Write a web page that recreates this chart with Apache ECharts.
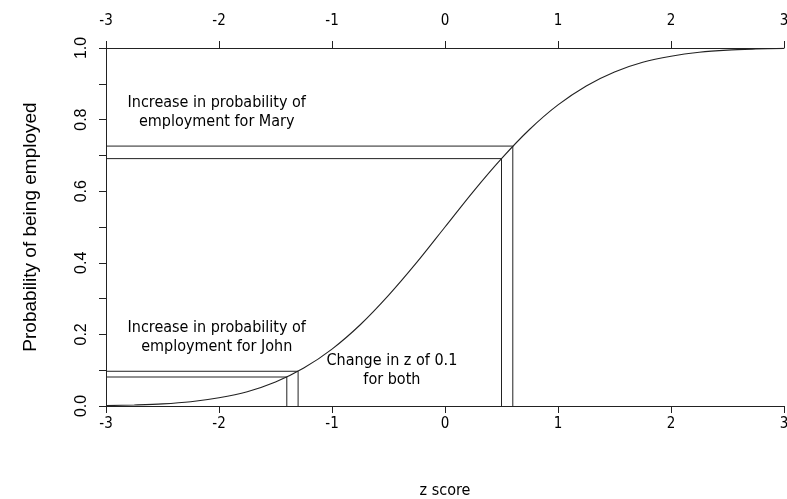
<!DOCTYPE html>
<html>
<head>
<meta charset="utf-8">
<script src="https://cdn.jsdelivr.net/npm/echarts@6/dist/echarts.min.js"></script>
<style>html,body{margin:0;padding:0;background:#fff}#c{width:787px;height:499px}</style>
</head>
<body>
<div id="c"></div>
<script>
// Curve values
var zValues = [-3, -2.75, -2.5, -2.25, -2, -1.75, -1.5, -1.25, -1, -0.75, -0.5, -0.25, 0, 0.25, 0.5, 0.75, 1, 1.25, 1.5, 1.75, 2, 2.25, 2.5, 2.75, 3];
var probValues = [0.001, 0.003, 0.006, 0.012, 0.023, 0.040, 0.067, 0.106, 0.159, 0.227, 0.309, 0.401, 0.5, 0.599, 0.691, 0.773, 0.841, 0.894, 0.933, 0.960, 0.977, 0.988, 0.994, 0.997, 0.999];
// Reference lines
var johnZ = [-1.4, -1.3];
var johnP = [0.081, 0.097];
var maryZ = [0.5, 0.6];
var maryP = [0.691, 0.726];
// Axis ticks
var xTicks = [-3, -2, -1, 0, 1, 2, 3];
var yMin = 0, yMax = 1, yStep = 0.1;
// Annotations
var noteTexts = ['Increase in probability of\nemployment for Mary', 'Increase in probability of\nemployment for John', 'Change in z of 0.1\nfor both'];
var noteZ = [-2.02, -2.02, -0.47];
var noteP = [0.82, 0.193, 0.10];

var narrow = '"DejaVu Sans Condensed", "Liberation Sans", sans-serif';
var regular = '"Liberation Sans", Arial, sans-serif';
var lineColor = '#222';

var curve = zValues.map(function (z, i) { return [z, probValues[i]]; });
var series = [{
  type: 'line', data: curve, smooth: 0.3, symbol: 'none',
  lineStyle: { color: lineColor, width: 1.1 }, silent: true
}];
function addSegments(zs, ps) {
  zs.forEach(function (z, i) {
    series.push({ type: 'line', symbol: 'none', silent: true, data: [[xTicks[0], ps[i]], [z, ps[i]]], lineStyle: { color: lineColor, width: 1 } });
    series.push({ type: 'line', symbol: 'none', silent: true, data: [[z, yMin], [z, ps[i]]], lineStyle: { color: lineColor, width: 1 } });
  });
}
addSegments(johnZ, johnP);
addSegments(maryZ, maryP);
series.push({
  type: 'scatter', symbolSize: 0, silent: true,
  itemStyle: { opacity: 1 },
  data: noteTexts.map(function (t, i) { return { value: [noteZ[i], noteP[i]], name: t }; }),
  label: { show: true, position: 'inside', formatter: function (p) { return p.name; },
    fontFamily: narrow, fontSize: 16, color: '#000', lineHeight: 19, align: 'center' }
});

var xAxisBase = {
  type: 'value', min: xTicks[0], max: xTicks[xTicks.length - 1], interval: 1,
  splitLine: { show: false },
  axisLine: { show: true, onZero: false, lineStyle: { color: lineColor, width: 1 } },
  axisTick: { show: true, length: 7, lineStyle: { color: lineColor } },
  axisLabel: { fontFamily: narrow, fontSize: 15, color: '#000' }
};
var chart = echarts.init(document.getElementById('c'));
chart.setOption({
  animation: false,
  backgroundColor: '#fff',
  grid: { left: 106, right: 3, top: 48, bottom: 93, containLabel: false, outerBoundsMode: 'none' },
  xAxis: [
    Object.assign({}, xAxisBase, { position: 'bottom', name: 'z score', nameLocation: 'middle', nameGap: 77,
      nameTextStyle: { fontFamily: narrow, fontSize: 16, color: '#000' },
      axisLabel: Object.assign({}, xAxisBase.axisLabel, { margin: 11 }) }),
    Object.assign({}, xAxisBase, { position: 'top',
      axisLabel: Object.assign({}, xAxisBase.axisLabel, { margin: 19 }) })
  ],
  yAxis: {
    type: 'value', min: yMin, max: yMax, interval: yStep,
    splitLine: { show: false },
    axisLine: { show: true, onZero: false, lineStyle: { color: lineColor, width: 1 } },
    axisTick: { show: true, length: 7, lineStyle: { color: lineColor } },
    axisLabel: { rotate: 90, margin: 16, fontFamily: regular, fontSize: 16, color: '#000',
      formatter: function (v) { var k = Math.round(v * 10); return k % 2 === 0 ? v.toFixed(1) : ''; } },
    name: 'Probability of being employed', nameLocation: 'middle', nameGap: 66, nameRotate: 90,
    nameTextStyle: { fontFamily: regular, fontSize: 19, color: '#000' }
  },
  series: series
});
</script>
</body>
</html>
